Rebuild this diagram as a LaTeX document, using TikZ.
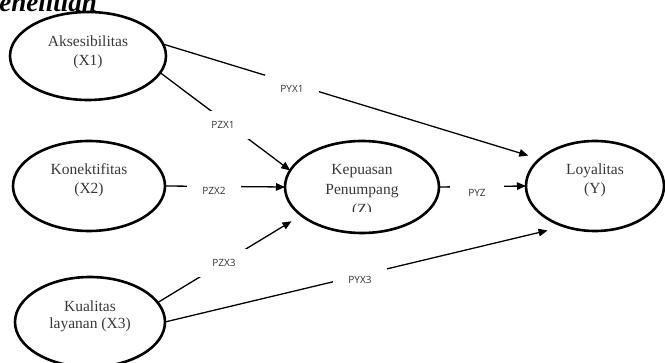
\documentclass[tikz,border=0pt]{standalone}
\usepackage{fontspec}
\setmainfont{Liberation Serif}
\newfontfamily\lblfont{Open Sans}
\usetikzlibrary{arrows.meta,shapes.geometric}
\begin{document}
\begin{tikzpicture}[x=1pt,y=-1pt,
  var/.style={ellipse,draw,line width=2.6pt,inner sep=0pt,outer sep=0pt},
  vtext/.style={align=center,font=\fontsize{15.5}{19}\selectfont,text=black!78,inner sep=0pt},
  conn/.style={line width=1.3pt},
  arr/.style={conn,-{Triangle[length=9pt,width=7.5pt]}},
  lbl/.style={fill=white,minimum width=54pt,minimum height=28pt,inner sep=0pt,font=\lblfont\fontsize{10}{12}\selectfont,text=black!80}]
\useasboundingbox (0,0) rectangle (665,363);
\clip (0,0) rectangle (665,363);
\node[anchor=base east,inner sep=0pt,font=\fontsize{27}{30}\selectfont\bfseries\itshape] (title) at (97,12) {Penelitian};
% variables
\node[var,minimum width=156pt,minimum height=88pt] (x1) at (88,56) {};
\node[var,minimum width=152pt,minimum height=90pt] (x2) at (89,186) {};
\node[var,minimum width=150pt,minimum height=90pt] (x3) at (90,322) {};
\node[var,minimum width=154pt,minimum height=92pt] (z) at (362,187) {};
\node[var,minimum width=138pt,minimum height=90pt] (y) at (595,186) {};
\node[vtext] (x1t) at (88,52.5) {Aksesibilitas\\(X1)};
\node[vtext] (x2t) at (89,180.5) {Konektifitas\\(X2)};
\node[vtext,font=\fontsize{15.5}{17}\selectfont] (x3t) at (90,316.5) {Kualitas\\layanan (X3)};
\node[vtext] (yt) at (595,180.5) {Loyalitas\\(Y)};
\begin{scope}
\clip (0,0) rectangle (665,212);
\node[vtext,font=\fontsize{15.5}{20}\selectfont] (zt) at (362,191) {Kepuasan\\Penumpang\\(Z)};
\end{scope}
% connectors
\draw[arr,shorten >=12pt] (x1.9) -- (y.154.5);
\draw[arr] (x1.-13.3) -- (z.167.1);
\draw[arr] (x2.east) -- (z.west);
\draw[arr,shorten >=11.5pt] (x3.16.4) -- (z.205.9);
\draw[arr,shorten >=17.5pt] (x3.east) -- (y.233.9);
\draw[arr] (z.east) -- (y.west);
% labels
\node[lbl] (pyx1) at (292,89) {PYX1};
\node[lbl] (pzx1) at (223,125) {PZX1};
\node[lbl] (pzx2) at (214,191) {PZX2};
\node[lbl] (pzx3) at (224,263) {PZX3};
\node[lbl] (pyx3) at (360,280) {PYX3};
\node[lbl] (pyz) at (477,193) {PYZ};
\end{tikzpicture}
\end{document}
